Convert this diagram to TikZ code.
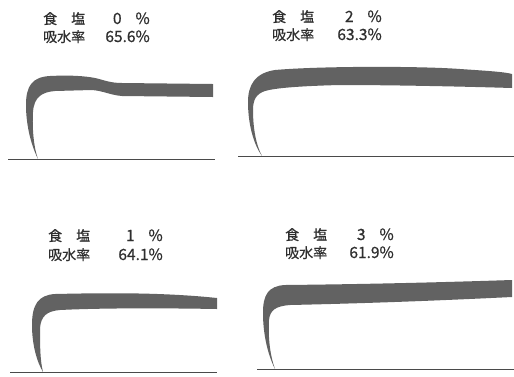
\documentclass[tikz,border=0pt]{standalone}
\usepackage{fontspec}
\usepackage{tikz}
\newfontfamily\cjk[FakeBold=0.6]{Noto Sans CJK JP}
\definecolor{Band}{HTML}{626262}
\definecolor{Ground}{HTML}{4A4A4A}
\definecolor{Ink}{HTML}{2E2E2E}

\begin{document}
\begin{tikzpicture}[x=1pt, y=-1pt,
  caption/.style={font=\cjk\fontsize{14}{16}\selectfont, text=Ink, inner sep=0pt},
  value/.style={caption, font=\cjk\fontsize{15.5}{17}\selectfont},
  ground/.style={Ground, line width=1pt},
  band/.style={fill=Band, draw=none}]
  \useasboundingbox[fill=white] (0,0) rectangle (514,376);

  % salt 0 %
  \node[caption, anchor=base west] (salt0) at (43,24) {食\hspace{1em}塩};
  \node[value, anchor=base east] (saltval0) at (150,24) {0\hspace{0.9em}\%};
  \node[caption, anchor=base west] (water0) at (43,42) {吸水率};
  \node[value, anchor=base east] (waterval0) at (150,42) {65.6\%};
  \draw[ground] (8,159) -- (215,159);
  \fill[band] (38,159) .. controls (31,145) and (26,125) .. (26,105)
    .. controls (26,86) and (32,77) .. (50,76)
    .. controls (70,75) and (85,76) .. (95,78)
    .. controls (104,80) and (110,83) .. (122,83) -- (213,84) -- (213,97)
    -- (122,96) .. controls (110,95) and (104,91) .. (92,90) -- (55,91)
    .. controls (42,92) and (34,97) .. (33,112)
    .. controls (32,130) and (34,148) .. (38,159) -- cycle;

  % salt 2 %
  \node[caption, anchor=base west] (salt2) at (272,22) {食\hspace{1em}塩};
  \node[value, anchor=base east] (saltval2) at (382,22) {2\hspace{0.9em}\%};
  \node[caption, anchor=base west] (water2) at (272,40) {吸水率};
  \node[value, anchor=base east] (waterval2) at (382,40) {63.3\%};
  \draw[ground] (238,156) -- (514,156);
  \fill[band] (262,156) .. controls (254,145) and (248,125) .. (248,102)
    .. controls (248,85) and (255,73) .. (275,70)
    .. controls (320,66) and (420,66) .. (460,69)
    .. controls (490,71) and (505,72) .. (512,74) -- (512,88)
    .. controls (480,87) and (400,85) .. (340,85)
    .. controls (300,86) and (275,88) .. (265,91)
    .. controls (256,94) and (253,100) .. (253,110)
    .. controls (253,128) and (256,145) .. (262,156) -- cycle;

  % salt 1 %
  \node[caption, anchor=base west] (salt1) at (48,241) {食\hspace{1em}塩};
  \node[value, anchor=base east] (saltval1) at (163,241) {1\hspace{0.9em}\%};
  \node[caption, anchor=base west] (water1) at (48,260) {吸水率};
  \node[value, anchor=base east] (waterval1) at (163,260) {64.1\%};
  \draw[ground] (10,372) -- (217,372);
  \fill[band] (43,372) .. controls (37,362) and (32,345) .. (32,325)
    .. controls (32,305) and (38,295) .. (55,294)
    .. controls (100,293) and (160,292) .. (217,298) -- (217,309)
    .. controls (160,308) and (100,308) .. (60,310)
    .. controls (47,311) and (41,316) .. (40,328)
    .. controls (40,345) and (40,360) .. (43,372) -- cycle;

  % salt 3 %
  \node[caption, anchor=base west] (salt3) at (285,240) {食\hspace{1em}塩};
  \node[value, anchor=base east] (saltval3) at (394,240) {3\hspace{0.9em}\%};
  \node[caption, anchor=base west] (water3) at (285,258) {吸水率};
  \node[value, anchor=base east] (waterval3) at (394,258) {61.9\%};
  \draw[ground] (257,369.5) -- (514,369.5);
  \fill[band] (275,369) .. controls (268,355) and (263,335) .. (263,313)
    .. controls (263,295) and (268,286) .. (285,285)
    .. controls (380,284) and (450,282) .. (512,280) -- (512,297)
    .. controls (450,300) and (380,303) .. (290,305)
    .. controls (276,306) and (270,310) .. (269,320)
    .. controls (268,338) and (270,355) .. (275,369) -- cycle;
\end{tikzpicture}
\end{document}
